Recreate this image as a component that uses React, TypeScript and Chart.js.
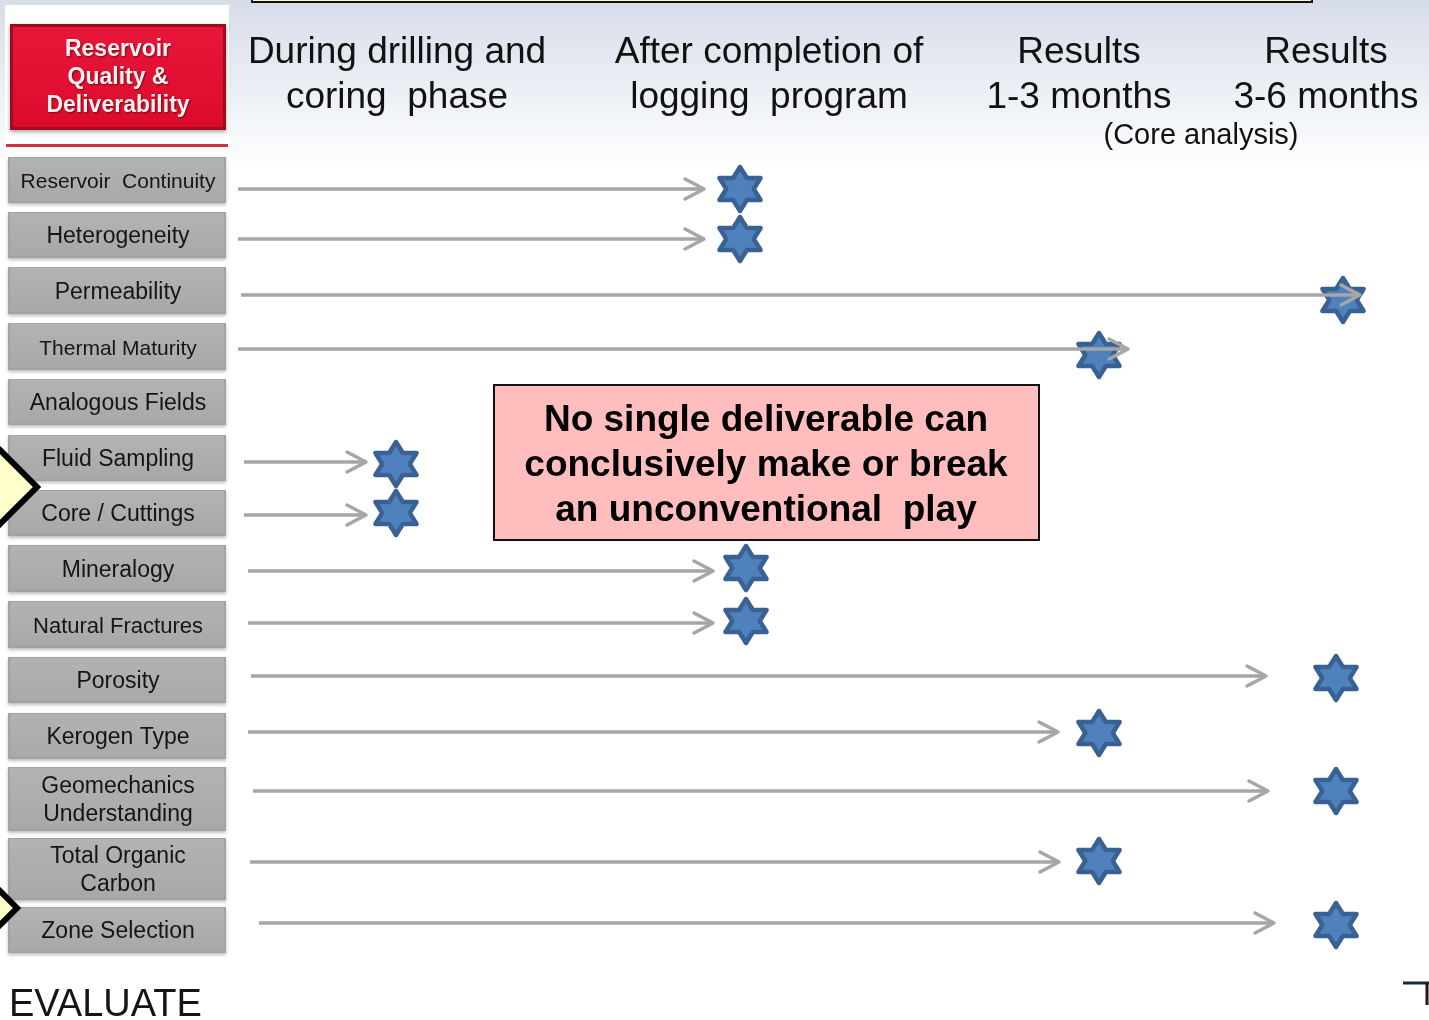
import React, { useEffect, useRef } from 'react';
import { Chart, registerables } from 'chart.js';

Chart.register(...registerables);

const FONT = '"Liberation Sans", Arial, Helvetica, sans-serif';

// ---------------- data ----------------
const deliverables = [
  'Reservoir  Continuity',
  'Heterogeneity',
  'Permeability',
  'Thermal Maturity',
  'Analogous Fields',
  'Fluid Sampling',
  'Core / Cuttings',
  'Mineralogy',
  'Natural Fractures',
  'Porosity',
  'Kerogen Type',
  'Geomechanics\nUnderstanding',
  'Total Organic\nCarbon',
  'Zone Selection',
];
const arrowStartX = [238, 238, 241, 238, null, 244, 244, 248, 248, 251, 248, 253, 250, 259];
const arrowEndX = [704, 704, 1360, 1128, null, 366, 366, 713, 713, 1266, 1058, 1268, 1059, 1274];
const arrowY = [189, 239, 295, 349, null, 462, 515, 571, 623, 676, 732, 791, 862, 923];
const starX = [740, 740, 1343, 1099, null, 396, 396, 746, 746, 1336, 1099, 1336, 1099, 1336];
const starY = [189, 239, 300, 355, null, 464, 513, 568, 621, 678, 733, 791, 861, 925];

const phaseTitles = [
  ['During drilling and', 'coring  phase'],
  ['After completion of', 'logging  program'],
  ['Results', '1-3 months'],
  ['Results', '3-6 months'],
];
const phaseNote = '(Core analysis)';
const headerTitle = ['Reservoir', 'Quality &', 'Deliverability'];
const calloutText = ['No single deliverable can', 'conclusively make or break', 'an unconventional  play'];
const footerText = 'EVALUATE';

// ---------------- layout (not data) ----------------
const W = 1429;
const H = 1020;
const labelBoxes: [number, number][] = [
  [157, 203], [212, 258], [267, 314], [323, 370], [379, 425], [435, 481], [490, 536],
  [545, 592], [601, 648], [657, 703], [713, 759], [767, 831], [838, 900], [907, 953],
];
const labelFontSize = [21, 23, 23, 21, 23, 23, 23, 23, 22, 23, 23, 23, 23, 23];
const phaseCenterX = [397, 769, 1079, 1326];

function makeStar(): HTMLCanvasElement {
  const c = document.createElement('canvas');
  c.width = 58;
  c.height = 58;
  const g = c.getContext('2d')!;
  const cx = 29, cy = 29, R = 22, r = R / Math.sqrt(3), sx = 1.08;
  g.beginPath();
  for (let k = 0; k < 12; k++) {
    const ang = (-90 + k * 30) * Math.PI / 180;
    const rad = k % 2 === 0 ? R : r;
    const x = cx + Math.cos(ang) * rad * sx;
    const y = cy + Math.sin(ang) * rad;
    if (k === 0) g.moveTo(x, y); else g.lineTo(x, y);
  }
  g.closePath();
  g.fillStyle = '#4f81bd';
  g.fill();
  g.lineWidth = 4.5;
  g.lineJoin = 'round';
  g.strokeStyle = '#3a6194';
  g.stroke();
  return c;
}

const decorPlugin = {
  id: 'decor',
  beforeDatasetsDraw(chart: any) {
    const ctx: CanvasRenderingContext2D = chart.ctx;
    ctx.save();
    // background gradient
    const bg = ctx.createLinearGradient(0, 0, 0, 170);
    bg.addColorStop(0, '#d6dde9');
    bg.addColorStop(1, '#ffffff');
    ctx.fillStyle = bg;
    ctx.fillRect(0, 0, W, 170);
    ctx.fillStyle = '#ffffff';
    ctx.fillRect(0, 170, W, H - 170);
    ctx.fillRect(5, 5, 224, H);

    // top yellow box (edge visible)
    ctx.fillStyle = '#ffffcc';
    ctx.fillRect(252, -20, 1060, 22);
    ctx.strokeStyle = '#111';
    ctx.lineWidth = 2;
    ctx.strokeRect(252, -20, 1060, 22);

    // red header
    ctx.save();
    ctx.shadowColor = 'rgba(0,0,0,0.35)';
    ctx.shadowBlur = 4;
    ctx.shadowOffsetY = 2;
    ctx.fillStyle = '#9e0d1e';
    ctx.fillRect(10, 24, 216, 106);
    ctx.restore();
    const rg = ctx.createLinearGradient(0, 27, 0, 127);
    rg.addColorStop(0, '#e8173a');
    rg.addColorStop(1, '#dc0b2c');
    ctx.fillStyle = rg;
    ctx.fillRect(13, 27, 210, 100);
    ctx.save();
    ctx.fillStyle = '#fff2f2';
    ctx.font = `bold 23px ${FONT}`;
    ctx.textAlign = 'center';
    ctx.shadowColor = 'rgba(80,0,0,0.7)';
    ctx.shadowBlur = 2;
    ctx.shadowOffsetX = 1;
    ctx.shadowOffsetY = 1;
    headerTitle.forEach((t, i) => ctx.fillText(t, 118, 56 + i * 28));
    ctx.restore();

    // red rule
    ctx.fillStyle = '#cf3340';
    ctx.fillRect(6, 144, 222, 3);

    // phase headers
    ctx.fillStyle = '#111';
    ctx.textAlign = 'center';
    ctx.font = `37px ${FONT}`;
    phaseTitles.forEach((lines, i) => {
      lines.forEach((t, j) => ctx.fillText(t, phaseCenterX[i], 63 + j * 45));
    });
    ctx.font = `29px ${FONT}`;
    ctx.fillText(phaseNote, 1201, 144);

    // label boxes
    deliverables.forEach((label, i) => {
      const [top, bot] = labelBoxes[i];
      ctx.save();
      ctx.shadowColor = 'rgba(0,0,0,0.25)';
      ctx.shadowBlur = 3;
      ctx.shadowOffsetY = 2;
      ctx.fillStyle = '#a3a3a3';
      ctx.fillRect(8, top, 218, bot - top);
      ctx.restore();
      const gg = ctx.createLinearGradient(0, top, 0, bot);
      gg.addColorStop(0, '#b3b3b3');
      gg.addColorStop(1, '#a8a8a8');
      ctx.fillStyle = gg;
      ctx.fillRect(10, top + 1, 214, bot - top - 3);
      ctx.fillStyle = '#151515';
      ctx.font = `${labelFontSize[i]}px ${FONT}`;
      ctx.textAlign = 'center';
      const parts = label.split('\n');
      const mid = (top + bot) / 2;
      parts.forEach((p, j) => {
        const y = mid + 8 + (j - (parts.length - 1) / 2) * 28;
        ctx.fillText(p, 118, y);
      });
    });

    // yellow diamonds on the left
    const diamond = (tipX: number, cy: number, h: number) => {
      ctx.beginPath();
      ctx.moveTo(tipX, cy);
      ctx.lineTo(tipX - h, cy - h);
      ctx.lineTo(tipX - 2 * h, cy);
      ctx.lineTo(tipX - h, cy + h);
      ctx.closePath();
      ctx.fillStyle = '#ffffcc';
      ctx.fill();
      ctx.lineWidth = 6;
      ctx.lineJoin = 'miter';
      ctx.strokeStyle = '#000';
      ctx.stroke();
    };
    diamond(37, 487, 90);
    diamond(17, 908, 60);

    // callout box
    ctx.fillStyle = '#ffbdbd';
    ctx.fillRect(494, 385, 545, 155);
    ctx.strokeStyle = '#111';
    ctx.lineWidth = 2;
    ctx.strokeRect(494, 385, 545, 155);
    ctx.fillStyle = '#000';
    ctx.font = `bold 37px ${FONT}`;
    ctx.textAlign = 'center';
    calloutText.forEach((t, i) => ctx.fillText(t, 766, 431 + i * 45));

    // footer
    ctx.textAlign = 'left';
    ctx.fillStyle = '#151515';
    ctx.font = `38px ${FONT}`;
    ctx.fillText(footerText, 9, 1016);

    // bottom-right corner mark
    ctx.strokeStyle = '#1b2836';
    ctx.lineWidth = 3;
    ctx.beginPath();
    ctx.moveTo(1403, 983);
    ctx.lineTo(1429, 983);
    ctx.stroke();
    ctx.strokeStyle = '#2a1010';
    ctx.beginPath();
    ctx.moveTo(1427, 983);
    ctx.lineTo(1427, 1005);
    ctx.stroke();
    ctx.restore();
  },
  afterDatasetsDraw(chart: any) {
    const ctx: CanvasRenderingContext2D = chart.ctx;
    ctx.save();
    ctx.strokeStyle = '#a6a6a6';
    ctx.lineWidth = 3.5;
    ctx.lineCap = 'round';
    ctx.lineJoin = 'round';
    chart.data.datasets.forEach((ds: any, i: number) => {
      if (!ds.isArrow) return;
      const meta = chart.getDatasetMeta(i);
      const p = meta.data[meta.data.length - 1];
      if (!p) return;
      ctx.beginPath();
      ctx.moveTo(p.x - 19, p.y - 10);
      ctx.lineTo(p.x, p.y);
      ctx.lineTo(p.x - 19, p.y + 10);
      ctx.stroke();
    });
    ctx.restore();
  },
};

export default function App() {
  const ref = useRef<HTMLCanvasElement | null>(null);

  useEffect(() => {
    document.body.style.margin = '0';
    const canvas = ref.current;
    if (!canvas) return;
    const star = makeStar();

    const arrowSets: any[] = [];
    deliverables.forEach((_, i) => {
      if (arrowY[i] == null) return;
      arrowSets.push({
        type: 'line',
        label: deliverables[i],
        isArrow: true,
        data: [
          { x: arrowStartX[i], y: arrowY[i] },
          { x: arrowEndX[i], y: arrowY[i] },
        ],
        borderColor: '#a6a6a6',
        borderWidth: 3.5,
        pointRadius: 0,
        showLine: true,
        fill: false,
        clip: false,
        order: 0,
      });
    });
    const starPoints = deliverables
      .map((_, i) => (starX[i] == null ? null : { x: starX[i], y: starY[i] }))
      .filter(Boolean);

    const chart = new Chart(canvas, {
      type: 'scatter',
      data: {
        datasets: [
          ...arrowSets,
          {
            label: 'milestones',
            data: starPoints as any,
            pointStyle: star as any,
            pointRadius: 23,
            clip: false,
            order: 1,
          } as any,
        ],
      },
      options: {
        responsive: false,
        maintainAspectRatio: false,
        devicePixelRatio: 1,
        animation: false,
        events: [],
        layout: { padding: 0, autoPadding: false } as any,
        plugins: { legend: { display: false }, tooltip: { enabled: false } },
        scales: {
          x: { type: 'linear', min: 0, max: W, display: false },
          y: { type: 'linear', min: 0, max: H, reverse: true, display: false },
        },
      },
      plugins: [decorPlugin],
    });
    return () => chart.destroy();
  }, []);

  return (
    <canvas
      ref={ref}
      width={W}
      height={H}
      style={{ display: 'block', width: W, height: H }}
    />
  );
}
